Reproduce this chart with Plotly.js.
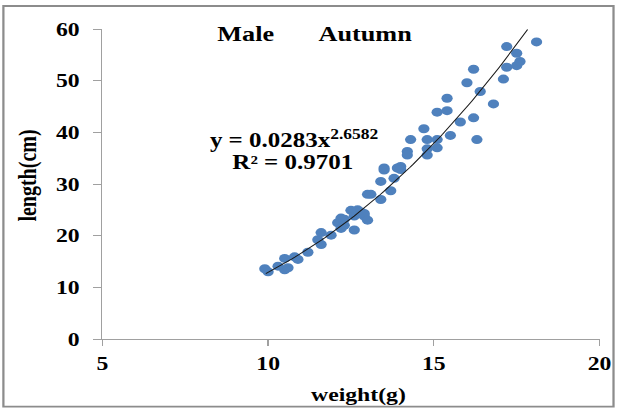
<!DOCTYPE html>
<html><head><meta charset="utf-8">
<script src="https://cdn.plot.ly/plotly-3.0.1.min.js"></script>
<style>
html,body{margin:0;padding:0;background:#fff;overflow:hidden}
#wrap{width:617px;height:412px;position:relative;overflow:hidden;background:#fff}
#chart{width:494px;height:412px;transform:scaleX(1.24899);transform-origin:0 0}
</style></head>
<body><div id="wrap"><div id="chart"></div></div>
<script>
// ---- data ----
const weight = [9.9,10.0,10.3,10.5,10.5,10.6,10.8,10.9,11.2,11.5,
  11.6,11.6,11.9,12.1,12.2,12.2,12.3,12.3,12.5,12.6,
  12.6,12.7,12.8,12.9,12.9,13.0,13.0,13.1,13.4,13.4,
  13.5,13.5,13.7,13.8,13.9,14.0,14.0,14.2,14.2,14.3,
  14.7,14.8,14.8,14.8,15.1,15.1,15.1,15.4,15.4,15.5,
  15.8,16.0,16.2,16.2,16.3,16.4,16.8,17.1,17.2,17.2,
  17.5,17.5,17.6,18.1];
const lengthCm = [13.6,13.0,14.1,15.6,13.4,13.8,15.9,15.4,16.8,19.2,
  20.6,18.3,20.1,22.5,23.4,21.4,23.2,22.0,24.9,21.1,
  23.8,25.0,24.6,23.8,24.3,23.0,28.0,28.0,30.5,27.0,
  33.1,32.7,28.7,31.1,33.1,33.4,32.8,36.3,35.6,38.6,
  40.7,38.6,36.8,35.6,43.9,38.6,37.0,46.6,44.2,39.4,
  42.0,49.6,52.2,42.8,38.6,47.9,45.5,50.3,56.6,52.6,
  55.3,52.9,53.7,57.5];
const trendCoef = 0.0283;
const trendExp = 2.6582;
const trendRange = [9.93, 17.83];
const xTicks = [5, 10, 15, 20];
const yTicks = [0, 10, 20, 30, 40, 50, 60];
const titleWords = ["Male", "Autumn"];
const eqLine1 = "y = 0.0283x<sup>2.6582</sup>";
const eqLine2 = "R² = 0.9701";
const xTitle = "weight(g)";
const yTitle = "length(cm)";

// trendline from the displayed power equation
const tx = [], ty = [];
const N = 80;
for (let i = 0; i <= N; i++) {
  const x = trendRange[0] + (trendRange[1] - trendRange[0]) * i / N;
  tx.push(x); ty.push(trendCoef * Math.pow(x, trendExp));
}

// ---- layout geometry (page is stretched horizontally by S) ----
const W = 494, H = 412, S = 617 / W;
const L = 103 / S, R = W - 600 / S, T = 29, B = H - 339.3;
const PW = W - L - R, PH = H - T - B;
const px = xo => (xo / S - L) / PW;          // original page x -> paper x
const py = yo => (H - B - yo) / PH;          // original page y -> paper y

const serif = "Liberation Serif, Times New Roman, serif";
const axisCol = "#a0a0a0";

const traces = [
  {x: weight, y: lengthCm, type: "scatter", mode: "markers",
   marker: {color: "#4f81bd", size: 9, line: {width: 0}}, hoverinfo: "skip"},
  {x: tx, y: ty, type: "scatter", mode: "lines",
   line: {color: "#1a1a1a", width: 0.9}, hoverinfo: "skip"}
];

const layout = {
  width: W, height: H,
  margin: {l: L, r: R, t: T, b: B, pad: 0},
  paper_bgcolor: "#fff", plot_bgcolor: "#fff",
  showlegend: false,
  font: {family: serif, color: "#000"},
  xaxis: {range: [5, 20], tickvals: xTicks, ticktext: xTicks.map(String),
    showgrid: false, zeroline: false, showline: true, linecolor: axisCol, linewidth: 1,
    ticks: "outside", ticklen: 6, tickwidth: 1, tickcolor: axisCol,
    tickfont: {family: serif, size: 19, color: "#000", weight: "bold"},
    ticklabelstandoff: 1},
  yaxis: {range: [0, 60], tickvals: yTicks, ticktext: yTicks.map(String),
    showgrid: false, zeroline: false, showline: true, linecolor: axisCol, linewidth: 1,
    ticks: "outside", ticklen: 6.4, tickwidth: 1, tickcolor: axisCol,
    tickfont: {family: serif, size: 19, color: "#000", weight: "bold"},
    ticklabelstandoff: 7},
  annotations: [
    {text: titleWords[0], xref: "paper", yref: "paper", x: px(216), y: py(34),
     xanchor: "left", yanchor: "middle", showarrow: false,
     font: {family: serif, size: 21, color: "#000", weight: "bold"}},
    {text: titleWords[1], xref: "paper", yref: "paper", x: px(316), y: py(34),
     xanchor: "left", yanchor: "middle", showarrow: false,
     font: {family: serif, size: 21, color: "#000", weight: "bold"}},
    {text: eqLine1, xref: "paper", yref: "paper", x: px(295), y: py(140),
     xanchor: "center", yanchor: "middle", showarrow: false,
     font: {family: serif, size: 20, color: "#000", weight: "bold"}},
    {text: eqLine2, xref: "paper", yref: "paper", x: px(294), y: py(162),
     xanchor: "center", yanchor: "middle", showarrow: false,
     font: {family: serif, size: 20, color: "#000", weight: "bold"}},
    {text: xTitle, xref: "paper", yref: "paper", x: px(359), y: py(395),
     xanchor: "center", yanchor: "middle", showarrow: false,
     font: {family: serif, size: 19, color: "#000", weight: "bold"}},
    {text: yTitle, xref: "paper", yref: "paper", x: px(29), y: py(176),
     xanchor: "center", yanchor: "middle", showarrow: false, textangle: -90,
     font: {family: serif, size: 20, color: "#000", weight: "bold"}}
  ],
  shapes: [
    {type: "rect", xref: "paper", yref: "paper",
     x0: px(4), x1: px(614), y0: py(407), y1: py(6),
     line: {color: "#8c8c8c", width: 1.8}, fillcolor: "rgba(0,0,0,0)", layer: "below"}
  ]
};

Plotly.newPlot("chart", traces, layout, {staticPlot: true, displayModeBar: false});
</script>
</body></html>
